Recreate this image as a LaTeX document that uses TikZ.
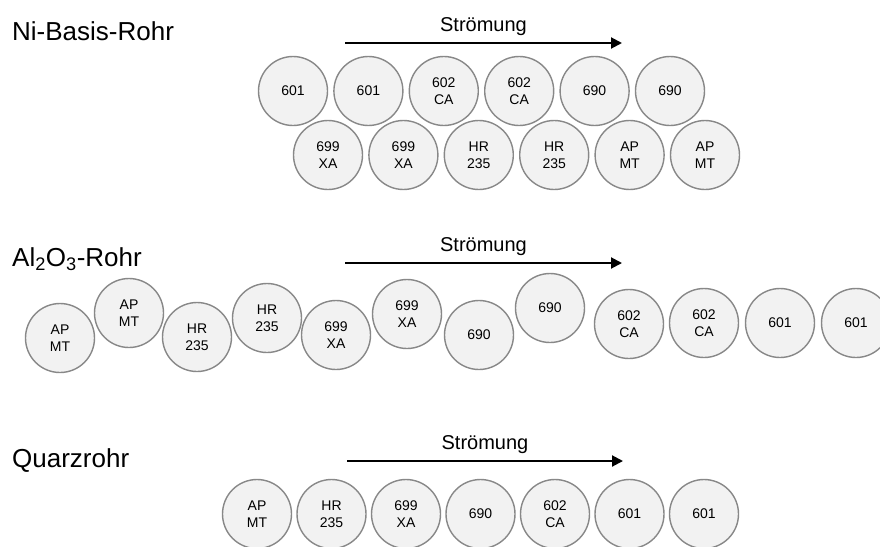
\documentclass[tikz,border=0pt]{standalone}
\usepackage{fontspec}
\setmainfont{Liberation Sans}
\usepackage{xcolor}
\usetikzlibrary{arrows.meta, positioning}

\definecolor{rimgray}{HTML}{888888}
\definecolor{padfill}{HTML}{F2F2F2}

\begin{document}
\begin{tikzpicture}[x=1pt, y=-1pt,
        sample/.style={circle, minimum size=69pt, inner sep=0pt, outer sep=0pt, draw=rimgray, fill=padfill, line width=1.4pt, align=center, font=\fontsize{14}{17}\selectfont},
        tubetitle/.style={anchor=base west, inner sep=0pt, font=\fontsize{26}{30}\selectfont},
        flowlabel/.style={pos=0.5, anchor=base, yshift=11.5pt, inner sep=0pt, font=\fontsize{20}{24}\selectfont},
        flow/.style={-{Triangle[length=11pt, width=11pt]}, line width=2pt, black}
    ]
        \clip (0,0) rectangle (880,546);
        \useasboundingbox (0,0) rectangle (880,546);

        % Ni-Basis-Rohr
        \node[tubetitle] (niTitle) at (12,40) {Ni-Basis-Rohr};
        \coordinate (niFrom) at (345,43);
        \coordinate (niTo) at (622,43);

        \node[sample] (ni1) at (293,91) {601};
        \node[sample, right=6.4pt of ni1] (ni2) {601};
        \node[sample, right=6.4pt of ni2] (ni3) {602\\CA};
        \node[sample, right=6.4pt of ni3] (ni4) {602\\CA};
        \node[sample, right=6.4pt of ni4] (ni5) {690};
        \node[sample, right=6.4pt of ni5] (ni6) {690};

        \node[sample] (ni7) at (328,155) {699\\XA};
        \node[sample, right=6.4pt of ni7] (ni8) {699\\XA};
        \node[sample, right=6.4pt of ni8] (ni9) {HR\\235};
        \node[sample, right=6.4pt of ni9] (ni10) {HR\\235};
        \node[sample, right=6.4pt of ni10] (ni11) {AP\\MT};
        \node[sample, right=6.4pt of ni11] (ni12) {AP\\MT};

        % Al2O3-Rohr
        \node[tubetitle] (alTitle) at (12,266) {Al\textsubscript{2}O\textsubscript{3}-Rohr};
        \coordinate (alFrom) at (345,263);
        \coordinate (alTo) at (622,263);

        \node[sample] (al1) at (60,338) {AP\\MT};
        \node[sample] (al2) at (129,313) {AP\\MT};
        \node[sample] (al3) at (197,337) {HR\\235};
        \node[sample] (al4) at (267,318) {HR\\235};
        \node[sample] (al5) at (336,335) {699\\XA};
        \node[sample] (al6) at (407,314) {699\\XA};
        \node[sample] (al7) at (479,335) {690};
        \node[sample] (al8) at (550,308) {690};
        \node[sample] (al9) at (629,324) {602\\CA};
        \node[sample] (al10) at (704,323) {602\\CA};
        \node[sample] (al11) at (780,323) {601};
        \node[sample] (al12) at (856,323) {601};

        % Quarzrohr
        \node[tubetitle] (qzTitle) at (12,467) {Quarzrohr};
        \coordinate (qzFrom) at (347,461);
        \coordinate (qzTo) at (623,461);

        \node[sample] (qz1) at (257,514) {AP\\MT};
        \node[sample, right=5.5pt of qz1] (qz2) {HR\\235};
        \node[sample, right=5.5pt of qz2] (qz3) {699\\XA};
        \node[sample, right=5.5pt of qz3] (qz4) {690};
        \node[sample, right=5.5pt of qz4] (qz5) {602\\CA};
        \node[sample, right=5.5pt of qz5] (qz6) {601};
        \node[sample, right=5.5pt of qz6] (qz7) {601};

        % Flow arrows
        \draw[flow] (niFrom) -- node[flowlabel] {Strömung} (niTo);
        \draw[flow] (alFrom) -- node[flowlabel] {Strömung} (alTo);
        \draw[flow] (qzFrom) -- node[flowlabel] {Strömung} (qzTo);

    \end{tikzpicture}
\end{document}
